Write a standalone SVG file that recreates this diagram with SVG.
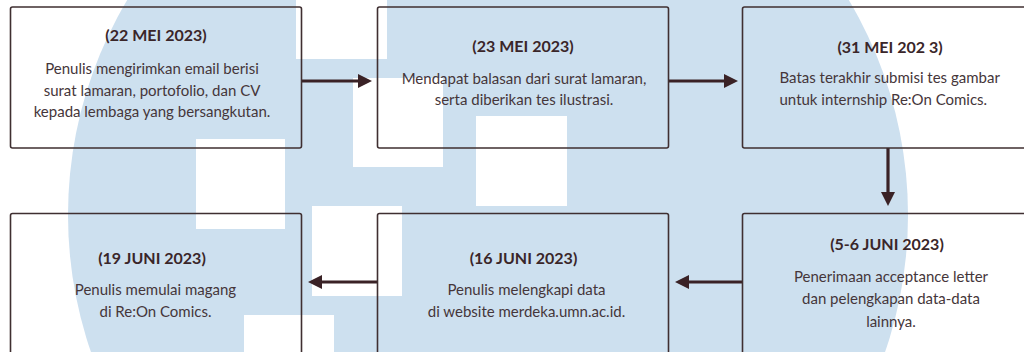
<svg xmlns="http://www.w3.org/2000/svg" width="1024" height="352" viewBox="0 0 1024 352">
<defs>
<style>
.box{fill:none;stroke:#3f2f31;stroke-width:1.6}
.conn{fill:none;stroke:#3a2226;stroke-width:3.2}
.date{font-family:Lato,"Liberation Sans",sans-serif;font-weight:700;font-size:16px;fill:#3a2629;text-anchor:middle}
.body{font-family:Lato,"Liberation Sans",sans-serif;font-size:15px;fill:#45363a;text-anchor:middle}
.wm{fill:#cde0ef}
.wb{fill:#ffffff}
</style>
<marker id="ah" markerUnits="userSpaceOnUse" markerWidth="14" markerHeight="14" refX="0" refY="7" orient="auto">
<path d="M0,0 L14,7 L0,14 z" fill="#3a2226"/>
</marker>
</defs>
<rect width="1024" height="352" fill="#ffffff"/>
<g id="watermark">
<circle class="wm" cx="488" cy="215" r="420"/>
<rect class="wb" x="296" y="-10" width="91" height="69"/>
<rect class="wb" x="353" y="78" width="90" height="89"/>
<rect class="wb" x="196" y="139" width="89" height="90"/>
<rect class="wb" x="476" y="116" width="91" height="90"/>
<rect class="wb" x="312" y="206" width="90" height="90"/>
<rect class="wb" x="244" y="315" width="90" height="50"/>
</g>
<g id="connectors">
<path class="conn" d="M301.5,81 H358" marker-end="url(#ah)"/>
<path class="conn" d="M668,81 H724" marker-end="url(#ah)"/>
<path class="conn" d="M888,148 V192" marker-end="url(#ah)"/>
<path class="conn" d="M742,282 H689" marker-end="url(#ah)"/>
<path class="conn" d="M377,282 H322" marker-end="url(#ah)"/>
</g>
<g id="n1">
<rect class="box" x="10.5" y="7" width="291" height="141" rx="2"/>
<text class="date" x="156" y="41">(22 MEI 2023)</text>
<text class="body" x="152" y="74">Penulis mengirimkan email berisi</text>
<text class="body" x="152" y="95.5">surat lamaran, portofolio, dan CV</text>
<text class="body" x="152" y="117">kepada lembaga yang bersangkutan.</text>
</g>
<g id="n2">
<rect class="box" x="377.5" y="7" width="291" height="141" rx="2"/>
<text class="date" x="523" y="52">(23 MEI 2023)</text>
<text class="body" x="524" y="83.5">Mendapat balasan dari surat lamaran,</text>
<text class="body" x="524" y="104.5">serta diberikan tes ilustrasi.</text>
</g>
<g id="n3">
<rect class="box" x="742.5" y="7" width="291" height="141" rx="2"/>
<text class="date" x="890" y="52.5">(31 MEI 202 3)</text>
<text class="body" x="779.5" y="83" text-anchor="start" style="text-anchor:start">Batas terakhir submisi tes gambar</text>
<text class="body" x="779.5" y="104.5" style="text-anchor:start">untuk internship Re:On Comics.</text>
</g>
<g id="n4">
<rect class="box" x="10.5" y="213.5" width="291" height="150" rx="2"/>
<text class="date" x="152" y="263.5">(19 JUNI 2023)</text>
<text class="body" x="155.5" y="294.5">Penulis memulai magang</text>
<text class="body" x="155.5" y="316.5">di Re:On Comics.</text>
</g>
<g id="n5">
<rect class="box" x="377.5" y="213.5" width="291" height="150" rx="2"/>
<text class="date" x="523.5" y="263.5">(16 JUNI 2023)</text>
<text class="body" x="526.5" y="294.5">Penulis melengkapi data</text>
<text class="body" x="526.5" y="316.5">di website merdeka.umn.ac.id.</text>
</g>
<g id="n6">
<rect class="box" x="742.5" y="213.5" width="291" height="150" rx="2"/>
<text class="date" x="887" y="250">(5-6 JUNI 2023)</text>
<text class="body" x="891" y="281.5">Penerimaan acceptance letter</text>
<text class="body" x="891" y="303.5">dan pelengkapan data-data</text>
<text class="body" x="891" y="326.5">lainnya.</text>
</g>
</svg>
